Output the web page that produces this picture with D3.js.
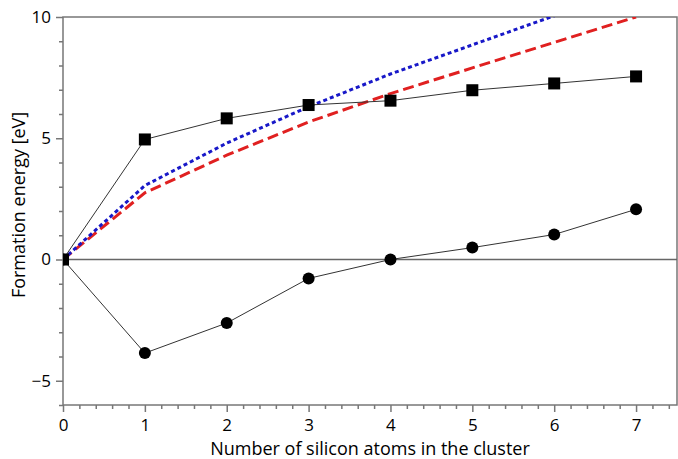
<!DOCTYPE html>
<html>
<head>
<meta charset="utf-8">
<script src="https://cdn.jsdelivr.net/npm/d3@7"></script>
<style>
  body { margin: 0; background: #fff; }
  text { font-family: "Open Sans", "DejaVu Sans", sans-serif; fill: #000; }
</style>
</head>
<body>
<svg id="chart" width="678" height="459"></svg>
<script>
// silicon atoms in cluster
const atoms = [0, 1, 2, 3, 4, 5, 6, 7];
// formation energies [eV]
const squares = [0, 4.95, 5.82, 6.37, 6.55, 6.98, 7.26, 7.55];
const circles = [0, -3.86, -2.62, -0.78, 0, 0.49, 1.03, 2.07];
const blueDotted = [0, 3.05, 4.8, 6.3, 7.65, 8.85, 10.05, 11.2];
const redDashed = [0, 2.75, 4.3, 5.67, 6.84, 7.9, 8.95, 10.0];
const xTicks = [0, 1, 2, 3, 4, 5, 6, 7];
const yTicks = [-5, 0, 5, 10];

const margin = { top: 17, right: 1, bottom: 54, left: 63 };
const width = 678 - margin.left - margin.right;
const height = 459 - margin.top - margin.bottom;

const svg = d3.select("#chart");
const g = svg.append("g").attr("transform", `translate(${margin.left},${margin.top})`);

const x = d3.scaleLinear().domain([0, 7.5]).range([0, width]);
const y = d3.scaleLinear().domain([-6, 10]).range([height, 0]);

const axisColor = "#777";

// minor ticks
const xMinor = d3.range(0, 7.5001, 0.2).filter((v) => Math.abs(v - Math.round(v)) > 1e-6);
const yMinor = d3.range(-6, 10.001, 1).filter((v) => v % 5 !== 0);

const xAxis = g.append("g")
  .attr("transform", `translate(0,${height})`)
  .call(d3.axisBottom(x).tickValues(xTicks).tickSize(7).tickPadding(7).tickFormat(d3.format("d")));
const xAxisMinor = g.append("g")
  .attr("transform", `translate(0,${height})`)
  .call(d3.axisBottom(x).tickValues(xMinor).tickSize(4).tickFormat(""));

const yAxis = g.append("g")
  .call(d3.axisLeft(y).tickValues(yTicks).tickSize(7).tickPadding(5)
    .tickFormat((d) => d < 0 ? "\u2212" + Math.abs(d) : d));
const yAxisMinor = g.append("g")
  .call(d3.axisLeft(y).tickValues(yMinor).tickSize(4).tickFormat(""));

[xAxis, xAxisMinor, yAxis, yAxisMinor].forEach((a) => {
  a.select(".domain").remove();
  a.selectAll("line").attr("stroke", axisColor).attr("stroke-width", 1.5);
  a.selectAll("text").attr("font-size", "17px").attr("fill", "#000");
});

// frame
g.append("rect")
  .attr("width", width).attr("height", height)
  .attr("fill", "none").attr("stroke", axisColor).attr("stroke-width", 1.5);

// zero line
g.append("line")
  .attr("x1", 0).attr("x2", width)
  .attr("y1", y(0)).attr("y2", y(0))
  .attr("stroke", "#666").attr("stroke-width", 1.5);

g.append("clipPath").attr("id", "clip")
  .append("rect").attr("width", width).attr("height", height);

const plot = g.append("g").attr("clip-path", "url(#clip)");

const line = d3.line().x((d, i) => x(atoms[i])).y((d) => y(d));

plot.append("path").datum(redDashed)
  .attr("fill", "none").attr("stroke", "#e02020").attr("stroke-width", 3)
  .attr("stroke-dasharray", "11,5").attr("d", line);
plot.append("path").datum(blueDotted)
  .attr("fill", "none").attr("stroke", "#1818c8").attr("stroke-width", 3)
  .attr("stroke-dasharray", "4,3").attr("d", line);

plot.append("path").datum(squares)
  .attr("fill", "none").attr("stroke", "#333").attr("stroke-width", 1).attr("d", line);
plot.append("path").datum(circles)
  .attr("fill", "none").attr("stroke", "#333").attr("stroke-width", 1).attr("d", line);

const sq = 12;
plot.selectAll(".sq").data(squares).join("rect")
  .attr("x", (d, i) => x(atoms[i]) - sq / 2)
  .attr("y", (d) => y(d) - sq / 2)
  .attr("width", sq).attr("height", sq)
  .attr("fill", "#000");
plot.selectAll(".ci").data(circles).join("circle")
  .attr("cx", (d, i) => x(atoms[i]))
  .attr("cy", (d) => y(d))
  .attr("r", 6)
  .attr("fill", "#000");

// axis titles
g.append("text")
  .attr("x", width / 2).attr("y", height + 50)
  .attr("text-anchor", "middle").attr("font-size", "18px")
  .text("Number of silicon atoms in the cluster");
g.append("text")
  .attr("transform", `translate(${-38},${y(2.25)}) rotate(-90)`)
  .attr("text-anchor", "middle").attr("font-size", "18px")
  .text("Formation energy [eV]");
</script>
</body>
</html>
